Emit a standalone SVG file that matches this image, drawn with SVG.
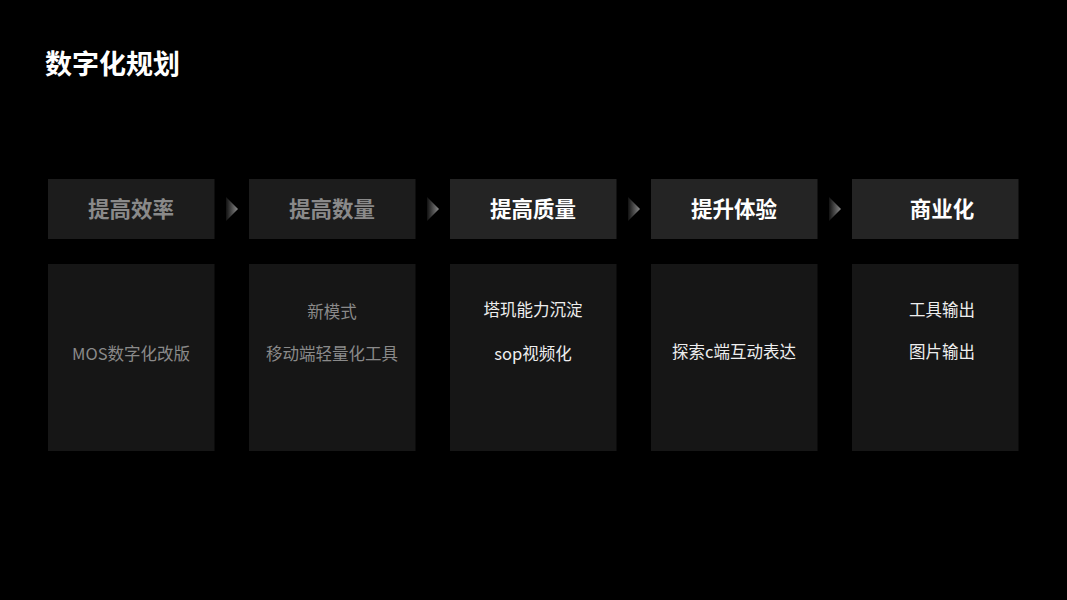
<svg xmlns="http://www.w3.org/2000/svg" width="1067" height="600" viewBox="0 0 1067 600">
<defs>
<linearGradient id="ag" x1="0" y1="0" x2="1" y2="0">
<stop offset="0" stop-color="#111"/>
<stop offset="1" stop-color="#8a8a8a"/>
</linearGradient>
<style>
text{font-family:"Noto Sans CJK SC","Noto Sans",sans-serif;text-anchor:middle}
.title{font-size:27px;font-weight:700;fill:#fff;text-anchor:start}
.hd{fill:#1c1c1c}
.hd2{fill:#242424}
.bd{fill:#161616}
.ht{font-size:21.5px;font-weight:700;fill:#8a8a8a}
.ht2{font-size:21.5px;font-weight:700;fill:#fff}
.bt{font-size:16.5px;fill:#8a8a8a}
.bt2{font-size:16.5px;fill:#eee}
</style>
</defs>
<rect width="1067" height="600" fill="#000"/>
<text class="title" x="45" y="74">数字化规划</text>
<g id="step1">
<rect class="hd" x="48" y="179" width="166.5" height="60"/>
<text class="ht" x="131" y="217">提高效率</text>
<rect class="bd" x="48" y="264" width="166.5" height="187"/>
<text class="bt" x="131" y="360">MOS数字化改版</text>
</g>
<g id="step2">
<rect class="hd" x="249" y="179" width="166.5" height="60"/>
<text class="ht" x="332" y="217">提高数量</text>
<rect class="bd" x="249" y="264" width="166.5" height="187"/>
<text class="bt" x="332" y="318">新模式</text>
<text class="bt" x="332" y="360">移动端轻量化工具</text>
</g>
<g id="step3">
<rect class="hd2" x="450" y="179" width="166.5" height="60"/>
<text class="ht2" x="533" y="217">提高质量</text>
<rect class="bd" x="450" y="264" width="166.5" height="187"/>
<text class="bt2" x="533" y="316">塔玑能力沉淀</text>
<text class="bt2" x="533" y="360">sop视频化</text>
</g>
<g id="step4">
<rect class="hd2" x="651" y="179" width="166.5" height="60"/>
<text class="ht2" x="734" y="217">提升体验</text>
<rect class="bd" x="651" y="264" width="166.5" height="187"/>
<text class="bt2" x="734" y="358">探索c端互动表达</text>
</g>
<g id="step5">
<rect class="hd2" x="852" y="179" width="166.5" height="60"/>
<text class="ht2" x="942" y="217">商业化</text>
<rect class="bd" x="852" y="264" width="166.5" height="187"/>
<text class="bt2" x="942" y="316">工具输出</text>
<text class="bt2" x="942" y="358">图片输出</text>
</g>
<g id="connectors">
<polygon points="226,197 238,209 226,221" fill="url(#ag)"/>
<polygon points="427,197 439,209 427,221" fill="url(#ag)"/>
<polygon points="628,197 640,209 628,221" fill="url(#ag)"/>
<polygon points="829,197 841,209 829,221" fill="url(#ag)"/>
</g>
</svg>
